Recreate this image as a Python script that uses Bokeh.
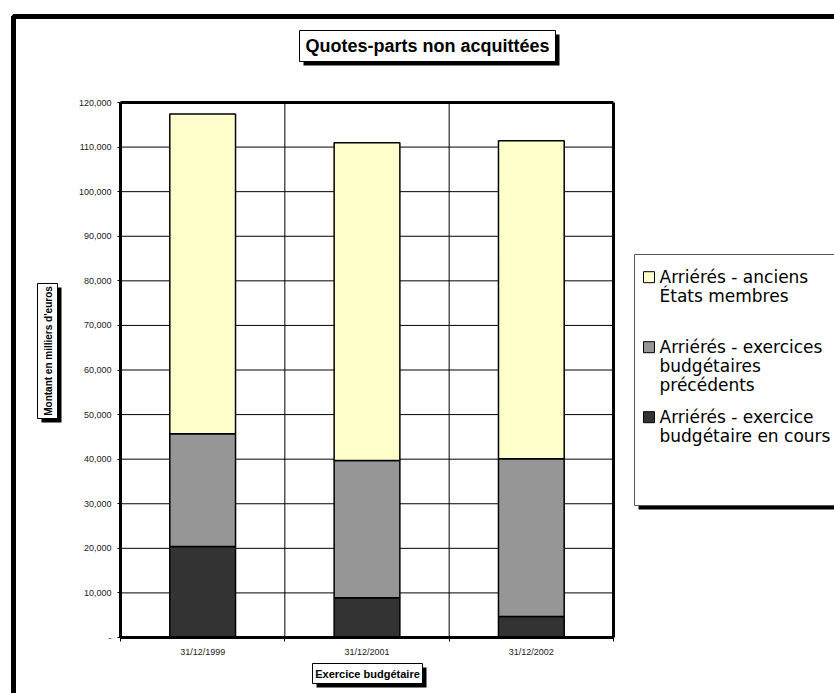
import math
from bokeh.plotting import figure
from bokeh.models import (ColumnDataSource, FixedTicker, NumeralTickFormatter,
                          Label, BoxAnnotation, Range1d, LinearAxis)
from bokeh.embed import file_html
from bokeh.resources import INLINE

# ---------------- data ----------------
categories = ["31/12/1999", "31/12/2001", "31/12/2002"]
en_cours = [20400, 8900, 4700]          # Arriérés - exercice budgétaire en cours
precedents = [25300, 30800, 35400]      # Arriérés - exercices budgétaires précédents
anciens = [71700, 71300, 71300]         # Arriérés - anciens États membres
series_keys = ["en_cours", "precedents", "anciens"]
series_colors = ["#333333", "#969696", "#FFFFCC"]
legend_lines = [
    ["Arriérés - anciens", "États membres"],
    ["Arriérés - exercices", "budgétaires", "précédents"],
    ["Arriérés - exercice", "budgétaire en cours"],
]
legend_color_index = [2, 1, 0]
y_ticks = list(range(0, 120001, 10000))
y_max = 120000
title_text = "Quotes-parts non acquittées"
y_title = "Montant en milliers d'euros"
x_title = "Exercice budgétaire"

# ---------------- layout (pixels) ----------------
W, H = 834, 693
PL, PR, PT, PB = 120, 613, 102, 637   # plot area inside the canvas

n = len(categories)
x_lo, x_hi = -0.5, n - 0.5
xs_per_px = (x_hi - x_lo) / (PR - PL)
ys_per_px = y_max / (PB - PT)

xs = list(range(n))
source = ColumnDataSource(dict(x=xs, en_cours=en_cours, precedents=precedents, anciens=anciens))

p = figure(width=W, height=H,
           x_range=Range1d(x_lo - PL * xs_per_px, x_hi + (W - PR) * xs_per_px),
           y_range=Range1d(0 - (H - PB) * ys_per_px, y_max + PT * ys_per_px),
           x_axis_location=None, y_axis_location=None,
           output_backend="svg", toolbar_location=None, min_border=0)
p.extra_x_ranges = {"px": Range1d(0, W)}
p.extra_y_ranges = {"px": Range1d(H, 0)}
p.background_fill_color = "white"
p.border_fill_color = "white"
p.outline_line_color = None
p.grid.visible = False

# grid lines limited to the plot area
inner_y = y_ticks[1:-1]
p.segment(x0=[x_lo] * len(inner_y), x1=[x_hi] * len(inner_y), y0=inner_y, y1=inner_y,
          line_color="black", line_width=1, level="underlay")
bounds_x = [i + 0.5 for i in range(n - 1)]
p.segment(x0=bounds_x, x1=bounds_x, y0=[0] * len(bounds_x), y1=[y_max] * len(bounds_x),
          line_color="black", line_width=1, level="underlay")

p.vbar_stack(series_keys, x="x", width=0.4, source=source,
             fill_color=series_colors, line_color="black", line_width=1.5)

# y axis
ya = LinearAxis(fixed_location=x_lo, bounds=(0, y_max))
ya.ticker = FixedTicker(ticks=y_ticks)
ya.formatter = NumeralTickFormatter(format="0,0")
ya.major_label_overrides = {0: "-"}
ya.axis_line_width = 3
ya.axis_line_color = "black"
ya.major_tick_out = 3
ya.major_tick_in = 0
ya.minor_tick_line_color = None
ya.major_label_text_font = "Liberation Sans"
ya.major_label_text_font_size = "9px"
ya.major_label_text_color = "#222222"
ya.major_label_standoff = 6
p.add_layout(ya, "left")

# x axis
xa = LinearAxis(fixed_location=0, bounds=(x_lo, x_hi))
xa.ticker = FixedTicker(ticks=xs, minor_ticks=[i - 0.5 for i in range(n + 1)])
xa.major_label_overrides = {i: c for i, c in enumerate(categories)}
xa.major_tick_line_color = None
xa.major_tick_out = 0
xa.major_tick_in = 0
xa.minor_tick_out = 4
xa.minor_tick_in = 0
xa.minor_tick_line_color = "black"
xa.axis_line_width = 3
xa.axis_line_color = "black"
xa.major_label_text_font = "Liberation Sans"
xa.major_label_text_font_size = "9px"
xa.major_label_text_color = "#222222"
xa.major_label_standoff = 5
p.add_layout(xa, "below")

# top and right frame lines
for loc, side, bnds in ((y_max, "above", (x_lo, x_hi)), (x_hi, "right", (0, y_max))):
    ax = LinearAxis(fixed_location=loc, bounds=bnds, ticker=FixedTicker(ticks=[]),
                    axis_line_width=3, axis_line_color="black",
                    major_tick_line_color=None, minor_tick_line_color=None,
                    major_label_text_font_size="0px")
    p.add_layout(ax, side)


def box(l, t, r, b, fill, line=None, lw=1):
    bx = BoxAnnotation(left=l, right=r, top=t, bottom=b,
                       x_range_name="px", y_range_name="px",
                       fill_color=fill, fill_alpha=1 if fill else 0,
                       line_color=line, line_width=lw, line_alpha=1)
    p.add_layout(bx)
    return bx


def label(x, y, text, size, bold=False, font="Liberation Sans", align="center", angle=0):
    lb = Label(x=x, y=y, x_range_name="px", y_range_name="px", text=text,
               text_font=font, text_font_size=size,
               text_font_style="bold" if bold else "normal",
               text_align=align, text_baseline="middle", text_color="black",
               angle=angle)
    p.add_layout(lb)
    return lb


# outer chart frame
box(13, 16, 900, 900, None, "black", 5)

# title box
box(303, 34, 559, 65, "black")
box(299, 30, 555, 61, "white", "black", 1)
label(427, 45.5, title_text, "18px", bold=True)

# y axis title box
box(41, 287, 61, 422, "black")
box(37, 283, 57, 418, "white", "black", 1)
label(47.5, 350.5, y_title, "10px", bold=True, angle=math.pi / 2)

# x axis title box
box(316, 667, 426, 687, "black")
box(312, 663, 422, 683, "white", "black", 1)
label(367, 673, x_title, "11px", bold=True)

# legend
box(638, 258, 900, 509, "black")
box(634, 254, 900, 505, "white", "#555555", 1)
first_line_y = [276.7, 346.7, 416.7]
line_step = 19
for item, lines in enumerate(legend_lines):
    y0 = first_line_y[item]
    box(643, y0 - 5.5, 654, y0 + 5.5, series_colors[legend_color_index[item]], "black", 1)
    for k, t in enumerate(lines):
        label(659, y0 + k * line_step, t, "17px", font="DejaVu Sans", align="left")

open("out.html", "w").write(file_html(p, INLINE))
